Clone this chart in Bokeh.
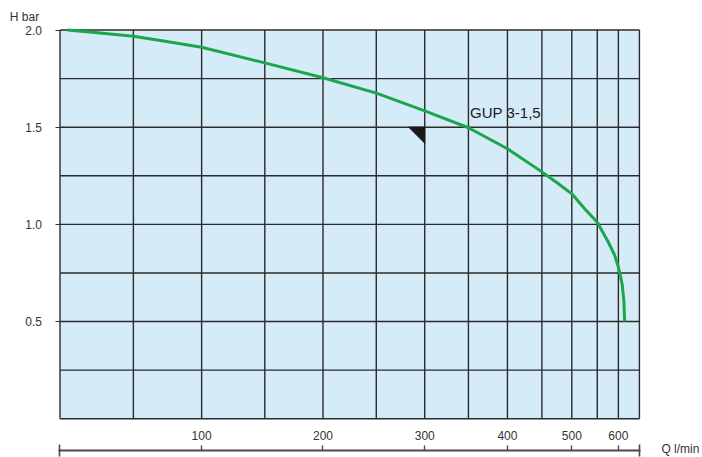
import numpy as np
from bokeh.plotting import figure
from bokeh.models import Range1d, FixedTicker, NumeralTickFormatter, Label
from bokeh.embed import file_html
from bokeh.resources import INLINE

# ---------------- data ----------------
flow_lpm = [5, 25, 50, 75, 100, 150, 200, 250, 300, 350, 400, 450, 475, 500,
            525, 550, 575, 590, 600, 610, 615, 617]
head_bar = [2.0, 1.986, 1.968, 1.94, 1.911, 1.831, 1.754, 1.675, 1.584, 1.497,
            1.389, 1.27, 1.213, 1.157, 1.078, 1.011, 0.908, 0.843, 0.78,
            0.694, 0.608, 0.5]
x_tick_values = [100, 200, 300, 400, 500, 600]
x_tick_labels = ["100", "200", "300", "400", "500", "600"]
x_grid_values = [0, 50, 100, 150, 200, 250, 300, 350, 400, 450, 500, 550, 600]
y_tick_values = [0.5, 1.0, 1.5, 2.0]
y_grid_values = [0.0, 0.25, 0.5, 0.75, 1.0, 1.25, 1.5, 1.75, 2.0]
q_max = 665
h_max = 2.0
curve_name = "GUP 3-1,5"
curve_label_q, curve_label_h = 352, 1.575
duty_q, duty_h = 300, 1.5
y_title = "H  bar"
x_title = "Q  l/min"


# the chart's compressed (non-linear) flow scale, in screen-pixel units
def qx(q):
    u = np.asarray(q, dtype=float) / 100.0
    return np.round(151.96 * u - 10.44 * u ** 2 + 0.104 * u ** 3, 3)


FONT = "Liberation Sans"
GRID = "#2b2b2b"
BG = "#d5ebf8"
GREEN = "#1ca64c"
TXT = "#333333"

W, H = 702, 457
PX_PER_BAR = 194.35
LEFT_PAD = 59.5          # px from canvas left to Q = 0
TOP_PAD = 29.5           # px from canvas top to H = 2.0
x_start = float(qx(0)) - LEFT_PAD
x_end = x_start + W
y_end = h_max + TOP_PAD / PX_PER_BAR
y_start = y_end - H / PX_PER_BAR
axis_h = -31.5 / PX_PER_BAR   # the flow axis line sits below the chart field

p = figure(width=W, height=H, output_backend="svg", toolbar_location=None,
           x_range=Range1d(x_start, x_end), y_range=Range1d(y_start, y_end),
           min_border=0, min_border_left=0, min_border_right=0,
           min_border_top=0, min_border_bottom=0)
p.outline_line_color = None
p.xgrid.visible = False
p.ygrid.visible = False
p.background_fill_color = "white"

q0 = float(qx(0))
qe = float(qx(q_max))

# chart field
p.quad(left=[q0], right=[qe], bottom=[0], top=[h_max],
       fill_color=BG, line_color=None)

vx = [float(v) for v in qx(x_grid_values)] + [qe]
p.segment(x0=vx, y0=[0] * len(vx), x1=vx, y1=[h_max] * len(vx),
          line_color=GRID, line_width=1.4)
p.segment(x0=[q0] * len(y_grid_values), y0=y_grid_values,
          x1=[qe] * len(y_grid_values), y1=y_grid_values,
          line_color=GRID, line_width=1.4)

# pump curve
p.line(qx(flow_lpm), head_bar, line_color=GREEN, line_width=3,
       line_join="round")

# duty-point marker (small right triangle hanging under the point)
dx = 16.0
dh = 16.0 / PX_PER_BAR
xd = float(qx(duty_q))
p.patch([xd - dx, xd, xd], [duty_h, duty_h, duty_h - dh],
        fill_color="#1a1a1a", line_color="#1a1a1a")

p.add_layout(Label(x=float(qx(curve_label_q)), y=curve_label_h, text=curve_name,
                   text_font=FONT, text_font_size="15px", text_color="#1a1a1a",
                   text_baseline="middle", text_align="left"))

# y axis at the left edge of the field
p.yaxis.fixed_location = q0
p.yaxis.ticker = FixedTicker(ticks=y_tick_values)
p.yaxis.formatter = NumeralTickFormatter(format="0.0")
p.yaxis.axis_line_color = None
p.yaxis.major_tick_out = 5
p.yaxis.major_tick_in = 0
p.yaxis.minor_tick_line_color = None
p.yaxis.major_tick_line_color = TXT
p.yaxis.major_tick_line_width = 1.2
p.yaxis.major_label_standoff = 13
p.yaxis.major_label_text_font = FONT
p.yaxis.major_label_text_font_size = "12px"
p.yaxis.major_label_text_color = TXT

# flow axis: a line with upward ticks and end caps, labels above the line
xt = [float(v) for v in qx(x_tick_values)]
p.xaxis.fixed_location = axis_h
p.xaxis.bounds = (q0 - 1.5, qe + 1.0)
p.xaxis.ticker = FixedTicker(ticks=xt, minor_ticks=[q0 - 1.0, qe + 0.5])
p.xaxis.major_label_overrides = {t: s for t, s in zip(xt, x_tick_labels)}
p.xaxis.axis_line_color = "#4a4a4a"
p.xaxis.axis_line_width = 1.8
p.xaxis.major_tick_in = 5
p.xaxis.major_tick_out = 0
p.xaxis.major_tick_line_color = "#4a4a4a"
p.xaxis.major_tick_line_width = 1.4
p.xaxis.minor_tick_in = 6
p.xaxis.minor_tick_out = 6
p.xaxis.minor_tick_line_color = "#4a4a4a"
p.xaxis.minor_tick_line_width = 1.6
p.xaxis.major_label_standoff = -25
p.xaxis.major_label_text_font = FONT
p.xaxis.major_label_text_font_size = "12px"
p.xaxis.major_label_text_color = TXT

# axis titles
p.add_layout(Label(x=q0 - 50.2, y=h_max + 13.5 / PX_PER_BAR, text=y_title,
                   text_font=FONT, text_font_size="12px", text_color=TXT,
                   text_baseline="middle", text_align="left"))
p.add_layout(Label(x=qe + 22, y=axis_h + 1.0 / PX_PER_BAR, text=x_title,
                   text_font=FONT, text_font_size="12px", text_color=TXT,
                   text_baseline="middle", text_align="left"))

open("out.html", "w").write(file_html(p, INLINE))
